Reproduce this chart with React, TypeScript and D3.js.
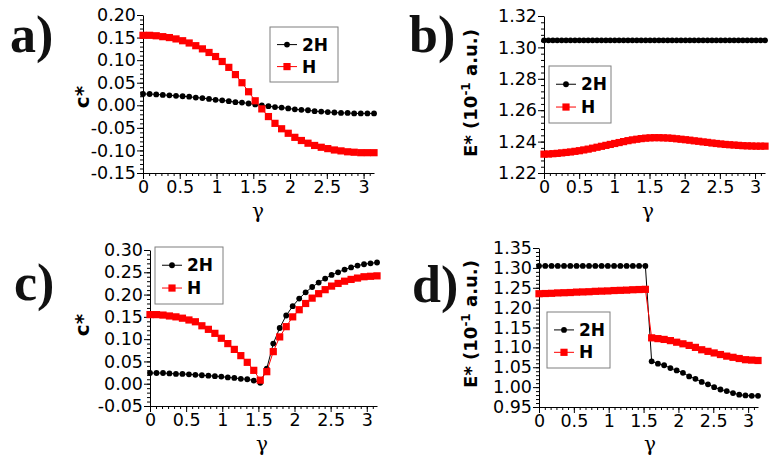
import { useEffect, useRef } from 'react'
import * as d3 from 'd3'

// gamma grids (36 points for a, c, d; 51 points for b)
const gamma36 = [
  0.000, 0.090, 0.180, 0.269, 0.359, 0.449, 0.539, 0.628, 0.718, 0.808, 0.898, 0.987,
  1.077, 1.167, 1.257, 1.346, 1.436, 1.526, 1.616, 1.706, 1.795, 1.885, 1.975, 2.065,
  2.154, 2.244, 2.334, 2.424, 2.513, 2.603, 2.693, 2.783, 2.872, 2.962, 3.052, 3.142
]
const gamma51 = [
  0.000, 0.063, 0.126, 0.188, 0.251, 0.314, 0.377, 0.440, 0.503, 0.565, 0.628, 0.691,
  0.754, 0.817, 0.880, 0.942, 1.005, 1.068, 1.131, 1.194, 1.257, 1.319, 1.382, 1.445,
  1.508, 1.571, 1.634, 1.696, 1.759, 1.822, 1.885, 1.948, 2.011, 2.073, 2.136, 2.199,
  2.262, 2.325, 2.388, 2.450, 2.513, 2.576, 2.639, 2.702, 2.765, 2.827, 2.890, 2.953,
  3.016, 3.079, 3.142
]

// a) c* vs gamma
const a2H = [
  0.025, 0.025, 0.024, 0.023, 0.022, 0.021, 0.020, 0.019, 0.017, 0.016, 0.014, 0.012,
  0.011, 0.009, 0.007, 0.006, 0.004, 0.002, 0.000, -0.002, -0.004, -0.005, -0.007, -0.009,
  -0.010, -0.011, -0.013, -0.014, -0.015, -0.016, -0.017, -0.017, -0.018, -0.018, -0.018, -0.018
]
const aH = [
  0.155, 0.155, 0.154, 0.152, 0.150, 0.147, 0.143, 0.138, 0.132, 0.125, 0.117, 0.108,
  0.097, 0.084, 0.068, 0.050, 0.030, 0.010, -0.008, -0.025, -0.040, -0.052, -0.062, -0.071,
  -0.078, -0.084, -0.089, -0.093, -0.096, -0.099, -0.101, -0.103, -0.104, -0.105, -0.105, -0.105
]

// b) E* vs gamma
const b2H = [
  1.3045, 1.3045, 1.3045, 1.3045, 1.3045, 1.3045, 1.3045, 1.3045, 1.3045, 1.3045, 1.3045,
  1.3045, 1.3045, 1.3045, 1.3045, 1.3045, 1.3045, 1.3045, 1.3045, 1.3045, 1.3045, 1.3045,
  1.3045, 1.3045, 1.3045, 1.3045, 1.3045, 1.3045, 1.3045, 1.3045, 1.3045, 1.3045, 1.3045,
  1.3045, 1.3045, 1.3045, 1.3045, 1.3045, 1.3045, 1.3045, 1.3045, 1.3045, 1.3045, 1.3045,
  1.3045, 1.3045, 1.3045, 1.3045, 1.3045, 1.3045, 1.3045
]
const bH = [
  1.2320, 1.2321, 1.2323, 1.2325, 1.2328, 1.2331, 1.2334, 1.2338, 1.2342, 1.2347, 1.2352,
  1.2358, 1.2364, 1.2370, 1.2376, 1.2382, 1.2388, 1.2394, 1.2400, 1.2406, 1.2411, 1.2415,
  1.2419, 1.2422, 1.2424, 1.2425, 1.2425, 1.2424, 1.2423, 1.2421, 1.2418, 1.2415, 1.2412,
  1.2409, 1.2405, 1.2402, 1.2398, 1.2395, 1.2391, 1.2388, 1.2385, 1.2382, 1.2380, 1.2378,
  1.2376, 1.2374, 1.2373, 1.2372, 1.2371, 1.2371, 1.2371
]

// c) c* vs gamma
const c2H = [
  0.024, 0.024, 0.024, 0.023, 0.022, 0.022, 0.021, 0.020, 0.019, 0.018, 0.017, 0.016,
  0.014, 0.013, 0.011, 0.010, 0.007, 0.002, 0.034, 0.090, 0.125, 0.153, 0.174, 0.191,
  0.205, 0.217, 0.227, 0.236, 0.244, 0.250, 0.256, 0.261, 0.265, 0.268, 0.270, 0.272
]
const cH = [
  0.155, 0.155, 0.154, 0.152, 0.150, 0.147, 0.143, 0.139, 0.130, 0.122, 0.113, 0.102,
  0.090, 0.077, 0.063, 0.048, 0.030, 0.008, 0.027, 0.072, 0.105, 0.128, 0.150, 0.166,
  0.180, 0.192, 0.202, 0.211, 0.219, 0.225, 0.230, 0.234, 0.237, 0.240, 0.241, 0.242
]

// d) E* vs gamma
const d2H = [
  1.305, 1.305, 1.305, 1.305, 1.305, 1.305, 1.305, 1.305, 1.305, 1.305, 1.305, 1.305,
  1.305, 1.305, 1.305, 1.305, 1.305, 1.305, 1.065, 1.059, 1.055, 1.048, 1.042, 1.036,
  1.027, 1.021, 1.013, 1.007, 1.000, 0.994, 0.990, 0.985, 0.981, 0.979, 0.978, 0.978
]
const dH = [
  1.235, 1.2355, 1.236, 1.237, 1.2375, 1.238, 1.239, 1.2395, 1.240, 1.241, 1.2415, 1.242,
  1.243, 1.2435, 1.244, 1.245, 1.2455, 1.246, 1.124, 1.122, 1.120, 1.117, 1.113, 1.109,
  1.105, 1.100, 1.094, 1.090, 1.086, 1.082, 1.078, 1.075, 1.072, 1.069, 1.068, 1.067
]

const xTickLabels = ['0', '0.5', '1', '1.5', '2', '2.5', '3']
const seriesNames = ['2H', 'H']

const FONT = '"DejaVu Sans", Verdana, sans-serif'

interface Panel {
  label: string
  labelPos: [number, number]
  xRange: [number, number]
  yRange: [number, number]
  yDomain: [number, number]
  yMajor: number
  yMinor: number
  yTitle: 'c' | 'E'
  yTitlePos: [number, number]
  gammaPos: [number, number]
  legend: { x: number; y: number; w: number; h: number }
  gx: number[]
  s2H: number[]
  sH: number[]
}

const panels: Panel[] = [
  {
    label: 'a)', labelPos: [10, 52], xRange: [143, 374], yRange: [173, 15],
    yDomain: [-0.15, 0.2], yMajor: 0.05, yMinor: 0.01, yTitle: 'c', yTitlePos: [89, 97],
    gammaPos: [258, 218], legend: { x: 270, y: 27, w: 68, h: 55 },
    gx: gamma36, s2H: a2H, sH: aH
  },
  {
    label: 'b)', labelPos: [409, 52], xRange: [544, 765], yRange: [173, 16],
    yDomain: [1.22, 1.32], yMajor: 0.02, yMinor: 0.004, yTitle: 'E', yTitlePos: [477, 93],
    gammaPos: [648, 218], legend: { x: 549, y: 66, w: 62, h: 57 },
    gx: gamma51, s2H: b2H, sH: bH
  },
  {
    label: 'c)', labelPos: [14, 300], xRange: [150, 377], yRange: [406, 250],
    yDomain: [-0.05, 0.3], yMajor: 0.05, yMinor: 0.01, yTitle: 'c', yTitlePos: [89, 325],
    gammaPos: [262, 451], legend: { x: 155, y: 247, w: 68, h: 57 },
    gx: gamma36, s2H: c2H, sH: cH
  },
  {
    label: 'd)', labelPos: [412, 302], xRange: [539, 758], yRange: [407, 248],
    yDomain: [0.95, 1.35], yMajor: 0.05, yMinor: 0.01, yTitle: 'E', yTitlePos: [477, 324],
    gammaPos: [650, 451], legend: { x: 547, y: 312, w: 63, h: 56 },
    gx: gamma36, s2H: d2H, sH: dH
  }
]

function stepTicks(lo: number, hi: number, step: number) {
  const n = Math.round((hi - lo) / step)
  return d3.range(n + 1).map(i => +(lo + i * step).toFixed(6))
}

export default function App() {
  const svgRef = useRef<SVGSVGElement>(null)

  useEffect(() => {
    document.body.style.margin = '0'
    if (!svgRef.current) return
    const svg = d3.select(svgRef.current)
    svg.selectAll('*').remove()

    svg.append('rect').attr('width', 776).attr('height', 457).attr('fill', '#fff')

    panels.forEach(p => {
      const g = svg.append('g')
      const x = d3.scaleLinear().domain([0, Math.PI]).range(p.xRange)
      const y = d3.scaleLinear().domain(p.yDomain).range(p.yRange)

      // y axis with minor ticks
      const yMinorTicks = stepTicks(p.yDomain[0], p.yDomain[1], p.yMinor)
      const yMajorTicks = stepTicks(p.yDomain[0], p.yDomain[1], p.yMajor)
      g.append('g')
        .attr('transform', `translate(${p.xRange[0]},0)`)
        .call(d3.axisLeft(y).tickValues(yMinorTicks).tickSize(3).tickFormat(() => ''))
        .call(a => a.select('.domain').remove())
      const yAx = g.append('g')
        .attr('transform', `translate(${p.xRange[0]},0)`)
        .call(d3.axisLeft(y).tickValues(yMajorTicks).tickSize(6).tickSizeOuter(0)
          .tickFormat(v => {
            const r = Math.round(+v * 1000) / 1000
            return (r === 0 ? 0 : r).toFixed(2)
          }))
      yAx.selectAll('text').style('font-family', FONT).style('font-size', '17.5px')
        .attr('fill', '#000').attr('x', -7)

      // x axis with minor ticks
      const xMinor = d3.range(0, 38).map(i => i / 12).filter(v => v <= Math.PI + 1e-6)
      g.append('g')
        .attr('transform', `translate(0,${p.yRange[0]})`)
        .call(d3.axisBottom(x).tickValues(xMinor).tickSize(3).tickFormat(() => ''))
        .call(a => a.select('.domain').remove())
      const xAx = g.append('g')
        .attr('transform', `translate(0,${p.yRange[0]})`)
        .call(d3.axisBottom(x).tickValues(xTickLabels.map(Number)).tickSize(6).tickSizeOuter(0)
          .tickFormat((v, i) => xTickLabels[i]))
      xAx.selectAll('text').style('font-family', FONT).style('font-size', '17.5px')
        .attr('fill', '#000').attr('y', 8)
      svg.selectAll('.domain').attr('stroke', '#000')

      // series
      const pts2H = p.gx.map((v, i) => [x(v), y(p.s2H[i])] as [number, number])
      const ptsH = p.gx.map((v, i) => [x(v), y(p.sH[i])] as [number, number])
      const line = d3.line()
      g.append('path').attr('d', line(pts2H)).attr('fill', 'none').attr('stroke', '#000').attr('stroke-width', 1)
      g.selectAll('.dot').data(pts2H).join('circle')
        .attr('cx', d => d[0]).attr('cy', d => d[1]).attr('r', 2.9).attr('fill', '#000')
      g.append('path').attr('d', line(ptsH)).attr('fill', 'none').attr('stroke', '#f00').attr('stroke-width', 1)
      g.selectAll('.sq').data(ptsH).join('rect')
        .attr('x', d => d[0] - 3.6).attr('y', d => d[1] - 3.6)
        .attr('width', 7.2).attr('height', 7.2).attr('fill', '#f00')

      // legend
      const L = p.legend
      const lg = g.append('g').attr('transform', `translate(${L.x},${L.y})`)
      lg.append('rect').attr('width', L.w).attr('height', L.h)
        .attr('fill', '#fff').attr('stroke', '#7f7f7f').attr('stroke-width', 1)
      seriesNames.forEach((name, i) => {
        const cy = L.h * (i === 0 ? 0.32 : 0.72)
        const col = i === 0 ? '#000' : '#f00'
        lg.append('line').attr('x1', 7).attr('x2', 27).attr('y1', cy).attr('y2', cy)
          .attr('stroke', col).attr('stroke-width', 1)
        if (i === 0) lg.append('circle').attr('cx', 17).attr('cy', cy).attr('r', 2.9).attr('fill', col)
        else lg.append('rect').attr('x', 13.4).attr('y', cy - 3.6).attr('width', 7.2).attr('height', 7.2).attr('fill', col)
        lg.append('text').attr('x', 32).attr('y', cy + 6)
          .style('font-family', FONT).style('font-size', '17px').style('font-weight', 'bold')
          .text(name)
      })

      // y title
      const yt = g.append('text')
        .attr('transform', `translate(${p.yTitlePos[0]},${p.yTitlePos[1]}) rotate(-90)`)
        .attr('text-anchor', 'middle')
        .style('font-family', FONT).style('font-weight', 'bold')
      if (p.yTitle === 'c') {
        yt.style('font-size', '20px').text('c*')
      } else {
        yt.style('font-size', '18px')
        yt.append('tspan').text('E* (10')
        yt.append('tspan').attr('dy', -7).style('font-size', '12px').text('-1')
        yt.append('tspan').attr('dy', 7).text(' a.u.)')
      }

      // gamma label
      g.append('text').attr('x', p.gammaPos[0]).attr('y', p.gammaPos[1])
        .attr('text-anchor', 'middle')
        .style('font-family', '"DejaVu Serif", serif').style('font-size', '20px')
        .text('γ')

      // panel label
      g.append('text').attr('x', p.labelPos[0]).attr('y', p.labelPos[1])
        .style('font-family', '"Liberation Serif", "Times New Roman", serif')
        .style('font-size', '52px').style('font-weight', 'bold')
        .attr('fill', '#111')
        .text(p.label)
    })
  }, [])

  return <svg ref={svgRef} width={776} height={457} style={{ display: 'block' }} />
}
